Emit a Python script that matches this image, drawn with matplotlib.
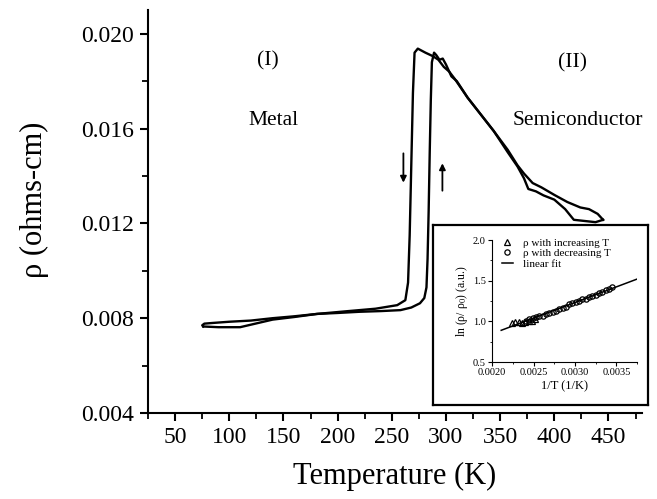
import matplotlib
matplotlib.use("Agg")
import matplotlib.pyplot as plt
from matplotlib.ticker import MultipleLocator, FormatStrFormatter

plt.rcParams['font.family'] = ['Liberation Serif', 'DejaVu Serif']
plt.rcParams['mathtext.fontset'] = 'stix'

# heating run (arrow up)
T_up = [76, 90, 110, 125, 140, 160, 181, 200, 220, 240, 258, 268, 276, 280, 282,
        283, 284, 285, 286, 287, 289, 291, 294, 297, 300, 305, 310, 320, 332,
        344, 357, 366, 372, 376, 383, 390, 400, 410, 418, 428, 438, 445]
rho_up = [0.00765, 0.00762, 0.00762, 0.00778, 0.00794, 0.00805, 0.00818, 0.00822,
          0.00827, 0.00830, 0.00834, 0.00845, 0.00863, 0.00885, 0.00930, 0.0105,
          0.0125, 0.0150, 0.0172, 0.0188, 0.0192, 0.0191, 0.0189, 0.01895, 0.0187,
          0.0182, 0.0180, 0.0173, 0.0166, 0.0159, 0.0150, 0.0144, 0.0139, 0.01345,
          0.01335, 0.01318, 0.0130, 0.0126, 0.01215, 0.0121, 0.01205, 0.01215]

# cooling run (arrow down)
T_down = [445, 440, 432, 424, 412, 400, 388, 380, 372, 366, 357, 344, 332, 320,
          308, 303, 298, 293, 288, 281, 274, 271, 269.5, 268.5, 267.5, 266.5, 265,
          262.5, 255, 235, 210, 181, 160, 140, 120, 100, 85, 77, 75, 76]
rho_down = [0.01215, 0.0124, 0.0126, 0.01267, 0.0129, 0.0132, 0.01352, 0.0137,
            0.0141, 0.01445, 0.0151, 0.0159, 0.0166, 0.0173, 0.0181, 0.0184, 0.0186,
            0.0189, 0.01905, 0.0192, 0.01937, 0.0192, 0.0175, 0.0155, 0.0135,
            0.0115, 0.0095, 0.00876, 0.00855, 0.0084, 0.0083, 0.00818, 0.00808,
            0.0080, 0.0079, 0.00785, 0.0078, 0.00777, 0.0077, 0.00765]

# inset: ln(rho/rho0) vs 1/T
inc_x = [0.00224, 0.00228, 0.00232, 0.00236, 0.00240, 0.00244, 0.00248, 0.00252]
inc_y = [0.98, 0.99, 0.99, 0.98, 0.99, 1.00, 1.01, 1.03]
dec_x = [0.00241, 0.00245, 0.00249, 0.00253, 0.00257, 0.00261, 0.00265, 0.00269,
         0.00273, 0.00277, 0.00281, 0.00285, 0.00289, 0.00293, 0.00297, 0.00301,
         0.00305, 0.00309, 0.00313, 0.00317, 0.00321, 0.00325, 0.00329, 0.00333,
         0.00337, 0.00341, 0.00345]
dec_y = [1.01, 1.03, 1.04, 1.05, 1.06, 1.07, 1.09, 1.10, 1.12, 1.13, 1.15, 1.17,
         1.18, 1.21, 1.22, 1.24, 1.25, 1.27, 1.28, 1.30, 1.31, 1.33, 1.35, 1.36,
         1.38, 1.40, 1.42]
fit_x = [0.00211, 0.00375]
fit_y = [0.89, 1.52]

fig = plt.figure(figsize=(6.57, 4.99), dpi=100)
ax = fig.add_axes([0.2253, 0.1723, 0.752, 0.8077])

ax.plot(T_up, rho_up, color='black', lw=1.7)
ax.plot(T_down, rho_down, color='black', lw=1.7)

# arrows showing direction
ax.annotate('', xy=(260.7, 0.0136), xytext=(260.7, 0.01507),
            arrowprops=dict(arrowstyle='-|>', color='black', lw=1.3, mutation_scale=9))
ax.annotate('', xy=(296.7, 0.01465), xytext=(296.7, 0.01326),
            arrowprops=dict(arrowstyle='-|>', color='black', lw=1.3, mutation_scale=9))

ax.text(136, 0.01886, '(I)', fontsize=15.5, ha='center', va='center')
ax.text(140.5, 0.01634, 'Metal', fontsize=15.5, ha='center', va='center')
ax.text(417, 0.01878, '(II)', fontsize=15.5, ha='center', va='center')
ax.text(421.5, 0.01634, 'Semiconductor', fontsize=15.5, ha='center', va='center')

ax.set_xlim(25, 481)
ax.set_ylim(0.004, 0.021)
ax.xaxis.set_major_locator(MultipleLocator(50))
ax.xaxis.set_minor_locator(MultipleLocator(25))
ax.yaxis.set_major_locator(MultipleLocator(0.004))
ax.yaxis.set_minor_locator(MultipleLocator(0.002))
ax.yaxis.set_major_formatter(FormatStrFormatter('%.3f'))
ax.spines['top'].set_visible(False)
ax.spines['right'].set_visible(False)
for s in ['left', 'bottom']:
    ax.spines[s].set_linewidth(1.5)
ax.tick_params(which='major', length=6, width=1.5, labelsize=17, pad=4)
ax.tick_params(which='minor', length=4, width=1.3)
ax.set_xticks([50, 100, 150, 200, 250, 300, 350, 400, 450])
ax.set_xlabel('Temperature (K)', fontsize=22, labelpad=10)
ax.set_ylabel('ρ (ohms-cm)', fontsize=22)
ax.yaxis.set_label_coords(-0.2, 0.53)

# inset frame
frame = fig.add_axes([0.659, 0.1884, 0.327, 0.3607])
frame.set_xticks([])
frame.set_yticks([])
for s in frame.spines.values():
    s.set_linewidth(1.6)

ins = fig.add_axes([0.749, 0.2745, 0.2207, 0.2445])
ins.plot(inc_x, inc_y, '^', mfc='none', mec='black', ms=3.8, mew=0.9,
         label='ρ with increasing T')
ins.plot(dec_x, dec_y, 'o', mfc='none', mec='black', ms=3.8, mew=0.9,
         label='ρ with decreasing T')
ins.plot(fit_x, fit_y, '-', color='black', lw=1.1, label='linear fit')
ins.set_xlim(0.0020, 0.00375)
ins.set_ylim(0.5, 2.0)
ins.xaxis.set_major_locator(MultipleLocator(0.0005))
ins.xaxis.set_minor_locator(MultipleLocator(0.00025))
ins.yaxis.set_major_locator(MultipleLocator(0.5))
ins.yaxis.set_minor_locator(MultipleLocator(0.25))
ins.xaxis.set_major_formatter(FormatStrFormatter('%.4f'))
ins.yaxis.set_major_formatter(FormatStrFormatter('%.1f'))
ins.spines['top'].set_visible(False)
ins.spines['right'].set_visible(False)
ins.tick_params(which='major', length=3, width=0.8, labelsize=7.5, pad=1.5)
ins.tick_params(which='minor', length=1.5, width=0.6)
ins.set_xlabel('1/T (1/K)', fontsize=9, labelpad=2)
ins.set_ylabel('ln (ρ/ ρ$_0$) (a.u.)', fontsize=8.5, labelpad=2)
ins.legend(loc='upper left', bbox_to_anchor=(0.02, 1.07), frameon=False,
           fontsize=8, handlelength=1.0, handletextpad=0.9, labelspacing=0.05,
           borderpad=0.1)

fig.savefig('out.png', dpi=100)
